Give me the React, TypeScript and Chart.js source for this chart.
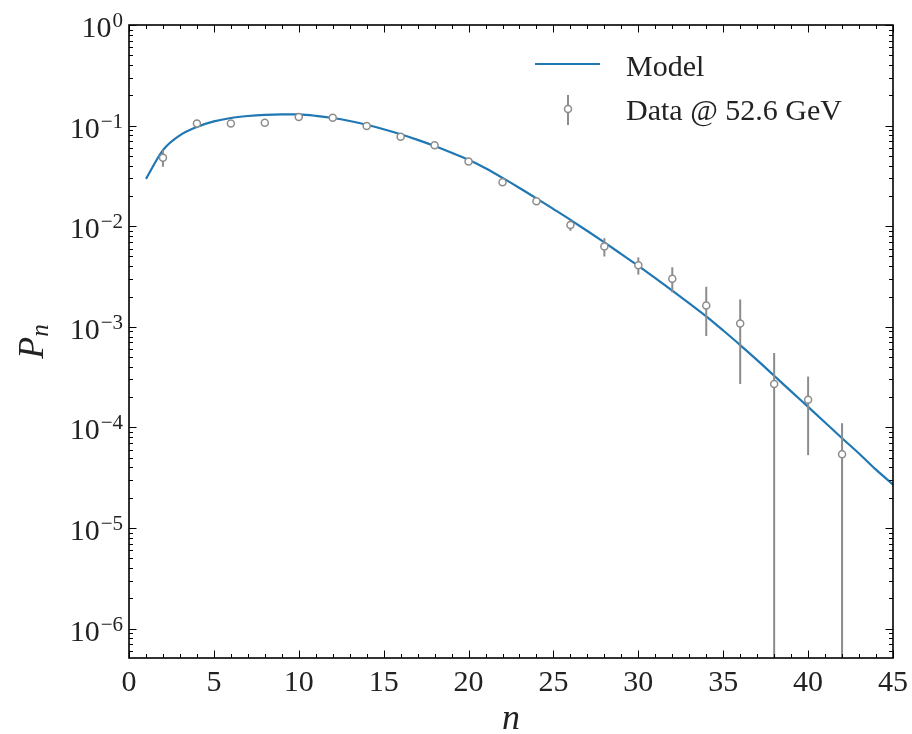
import React, { useEffect, useRef } from 'react';
import { Chart, registerables } from 'chart.js';

Chart.register(...registerables);

// ---- Data ----
const modelN = [1, 2, 3, 4, 5, 6, 7, 8, 9, 10, 11, 12, 13, 14, 15, 16, 17, 18, 19, 20, 21, 22, 23, 24, 25, 26, 27, 28, 29, 30, 31, 32, 33, 34, 35, 36, 37, 38, 39, 40, 41, 42, 43, 44, 45];
const modelP = [0.0295, 0.057, 0.080, 0.097, 0.110, 0.119, 0.1245, 0.128, 0.1295, 0.129, 0.125, 0.1189, 0.111, 0.1019, 0.092, 0.082, 0.0721, 0.0627, 0.0538, 0.0457, 0.0376, 0.0302, 0.0240, 0.0189, 0.0148, 0.01156, 0.00895, 0.0069, 0.00528, 0.00403, 0.00305, 0.00229, 0.00171, 0.00127, 0.000918, 0.000658, 0.000466, 0.000326, 0.000228, 0.00016, 0.000112, 0.000078, 0.000055, 0.000038, 0.000027];

const dataN = [2, 4, 6, 8, 10, 12, 14, 16, 18, 20, 22, 24, 26, 28, 30, 32, 34, 36, 38, 40, 42];
const dataP = [0.0478, 0.105, 0.105, 0.107, 0.1216, 0.120, 0.099, 0.0775, 0.0638, 0.0439, 0.0273, 0.0177, 0.0103, 0.0063, 0.0041, 0.0030, 0.00163, 0.00108, 0.00027, 0.000188, 0.000054];
const dataHi = [0.057, 0.112, 0.110, 0.112, 0.127, 0.125, 0.103, 0.081, 0.067, 0.046, 0.029, 0.019, 0.0114, 0.0076, 0.0049, 0.0039, 0.0025, 0.00187, 0.00055, 0.00032, 0.00011];
const dataLo = [0.039, 0.098, 0.100, 0.102, 0.116, 0.115, 0.095, 0.074, 0.061, 0.042, 0.0257, 0.0165, 0.0090, 0.0050, 0.0033, 0.0022, 0.00081, 0.00027, 0, 0.000053, 0];

const xTickValues = [0, 5, 10, 15, 20, 25, 30, 35, 40, 45];
const yDecades = [0, -1, -2, -3, -4, -5, -6];
const legendLabels = ['Model', 'Data @ 52.6 GeV'];
const xTitle = 'n';
const yTitleMain = 'P';
const yTitleSub = 'n';

const X_MIN = 0;
const X_MAX = 45;
const Y_MIN = 5.1e-7;
const Y_MAX = 1;

const LINE_COLOR = '#1f77b4';
const DATA_COLOR = '#8c8c8c';
const FONT = '"Liberation Serif", "Times New Roman", serif';

function drawErrorBars(chart: any) {
  const ctx = chart.ctx;
  const xs = chart.scales.x;
  const ys = chart.scales.y;
  const area = chart.chartArea;
  ctx.save();
  ctx.beginPath();
  ctx.rect(area.left, area.top, area.right - area.left, area.bottom - area.top);
  ctx.clip();
  ctx.strokeStyle = DATA_COLOR;
  ctx.lineWidth = 2;
  for (let i = 0; i < dataN.length; i++) {
    const px = xs.getPixelForValue(dataN[i]);
    const top = ys.getPixelForValue(dataHi[i]);
    const bot = dataLo[i] > 0 ? ys.getPixelForValue(dataLo[i]) : area.bottom + 2;
    ctx.beginPath();
    ctx.moveTo(px, top);
    ctx.lineTo(px, bot);
    ctx.stroke();
  }
  ctx.restore();
}

function drawDecor(chart: any) {
  const ctx = chart.ctx;
  const xs = chart.scales.x;
  const ys = chart.scales.y;
  const a = chart.chartArea;
  ctx.save();

  // ticks
  ctx.strokeStyle = '#000';
  ctx.lineWidth = 1;
  const MAJ = 7.5;
  const MIN = 4;
  ctx.beginPath();
  for (let v = X_MIN; v <= X_MAX; v++) {
    const px = Math.round(xs.getPixelForValue(v)) + 0.5;
    const len = v % 5 === 0 ? MAJ : MIN;
    ctx.moveTo(px, a.bottom);
    ctx.lineTo(px, a.bottom - len);
    ctx.moveTo(px, a.top);
    ctx.lineTo(px, a.top + len);
  }
  for (let d = 0; d >= -7; d--) {
    for (let m = 1; m <= 9; m++) {
      const v = m * Math.pow(10, d);
      if (v < Y_MIN || v > Y_MAX) continue;
      const py = Math.round(ys.getPixelForValue(v)) + 0.5;
      const len = m === 1 ? MAJ : MIN;
      ctx.moveTo(a.left, py);
      ctx.lineTo(a.left + len, py);
      ctx.moveTo(a.right, py);
      ctx.lineTo(a.right - len, py);
    }
  }
  ctx.stroke();

  // frame
  ctx.lineWidth = 1.6;
  ctx.strokeRect(a.left, a.top, a.right - a.left, a.bottom - a.top);

  // x tick labels
  ctx.fillStyle = '#222';
  ctx.font = `30px ${FONT}`;
  ctx.textAlign = 'center';
  ctx.textBaseline = 'alphabetic';
  for (const v of xTickValues) {
    ctx.fillText(String(v), xs.getPixelForValue(v), a.bottom + 33);
  }

  // y tick labels 10^d
  for (const d of yDecades) {
    const py = ys.getPixelForValue(Math.pow(10, d));
    const exp = d === 0 ? '0' : '\u2212' + String(-d);
    const right = a.left - 6;
    ctx.font = `21px ${FONT}`;
    ctx.textAlign = 'right';
    ctx.fillText(exp, right, py + 2);
    const ew = ctx.measureText(exp).width;
    ctx.font = `30px ${FONT}`;
    ctx.fillText('10', right - ew - 1, py + 12);
  }

  // x title
  ctx.font = `italic 36px ${FONT}`;
  ctx.textAlign = 'center';
  ctx.fillText(xTitle, (a.left + a.right) / 2, 729);

  // y title
  ctx.save();
  ctx.translate(43, (a.top + a.bottom) / 2);
  ctx.rotate(-Math.PI / 2);
  ctx.font = `italic 36px ${FONT}`;
  const pw = ctx.measureText(yTitleMain).width;
  ctx.font = `italic 25px ${FONT}`;
  const nw = ctx.measureText(yTitleSub).width;
  const start = -(pw + nw) / 2;
  ctx.textAlign = 'left';
  ctx.font = `italic 36px ${FONT}`;
  ctx.fillText(yTitleMain, start, 0);
  ctx.font = `italic 25px ${FONT}`;
  ctx.fillText(yTitleSub, start + pw, 5);
  ctx.restore();

  // legend
  ctx.strokeStyle = LINE_COLOR;
  ctx.lineWidth = 2;
  ctx.beginPath();
  ctx.moveTo(535, 64);
  ctx.lineTo(600, 64);
  ctx.stroke();
  ctx.strokeStyle = DATA_COLOR;
  ctx.beginPath();
  ctx.moveTo(568, 95);
  ctx.lineTo(568, 125);
  ctx.stroke();
  ctx.fillStyle = '#fff';
  ctx.lineWidth = 1.5;
  ctx.beginPath();
  ctx.arc(568, 109, 3.5, 0, Math.PI * 2);
  ctx.fill();
  ctx.stroke();
  ctx.fillStyle = '#222';
  ctx.font = `30px ${FONT}`;
  ctx.textAlign = 'left';
  ctx.fillText(legendLabels[0], 626, 76);
  ctx.fillText(legendLabels[1], 626, 120);

  ctx.restore();
}

const decorPlugin = {
  id: 'decor',
  beforeDatasetDraw(chart: any, args: any) {
    if (args.index === 1) drawErrorBars(chart);
  },
  afterDraw(chart: any) {
    drawDecor(chart);
  },
};

export default function App() {
  const ref = useRef<HTMLCanvasElement | null>(null);

  useEffect(() => {
    if (!ref.current) return;
    const chart = new Chart(ref.current, {
      type: 'scatter',
      data: {
        datasets: [
          {
            label: legendLabels[0],
            data: modelN.map((n, i) => ({ x: n, y: modelP[i] })),
            showLine: true,
            borderColor: LINE_COLOR,
            backgroundColor: LINE_COLOR,
            borderWidth: 2.2,
            pointRadius: 0,
            cubicInterpolationMode: 'monotone',
            order: 2,
          } as any,
          {
            label: legendLabels[1],
            data: dataN.map((n, i) => ({ x: n, y: dataP[i] })),
            showLine: false,
            pointRadius: 3.5,
            pointBorderWidth: 1.5,
            pointBorderColor: DATA_COLOR,
            pointBackgroundColor: '#ffffff',
            order: 1,
          } as any,
        ],
      },
      options: {
        responsive: false,
        animation: false,
        devicePixelRatio: 1,
        layout: { padding: { top: 25, right: 19, left: 0, bottom: 0 } },
        plugins: { legend: { display: false }, tooltip: { enabled: false } },
        scales: {
          x: {
            type: 'linear',
            min: X_MIN,
            max: X_MAX,
            ticks: { display: false },
            grid: { display: false },
            border: { display: false },
            afterFit: (s: any) => { s.height = 76; },
          },
          y: {
            type: 'logarithmic',
            min: Y_MIN,
            max: Y_MAX,
            ticks: { display: false },
            grid: { display: false },
            border: { display: false },
            afterFit: (s: any) => { s.width = 129; },
          },
        },
      } as any,
      plugins: [decorPlugin],
    });
    return () => chart.destroy();
  }, []);

  return (
    <div style={{ position: 'fixed', left: 0, top: 0, width: 912, height: 734, background: '#fff' }}>
      <canvas ref={ref} width={912} height={734} style={{ display: 'block' }} />
    </div>
  );
}
